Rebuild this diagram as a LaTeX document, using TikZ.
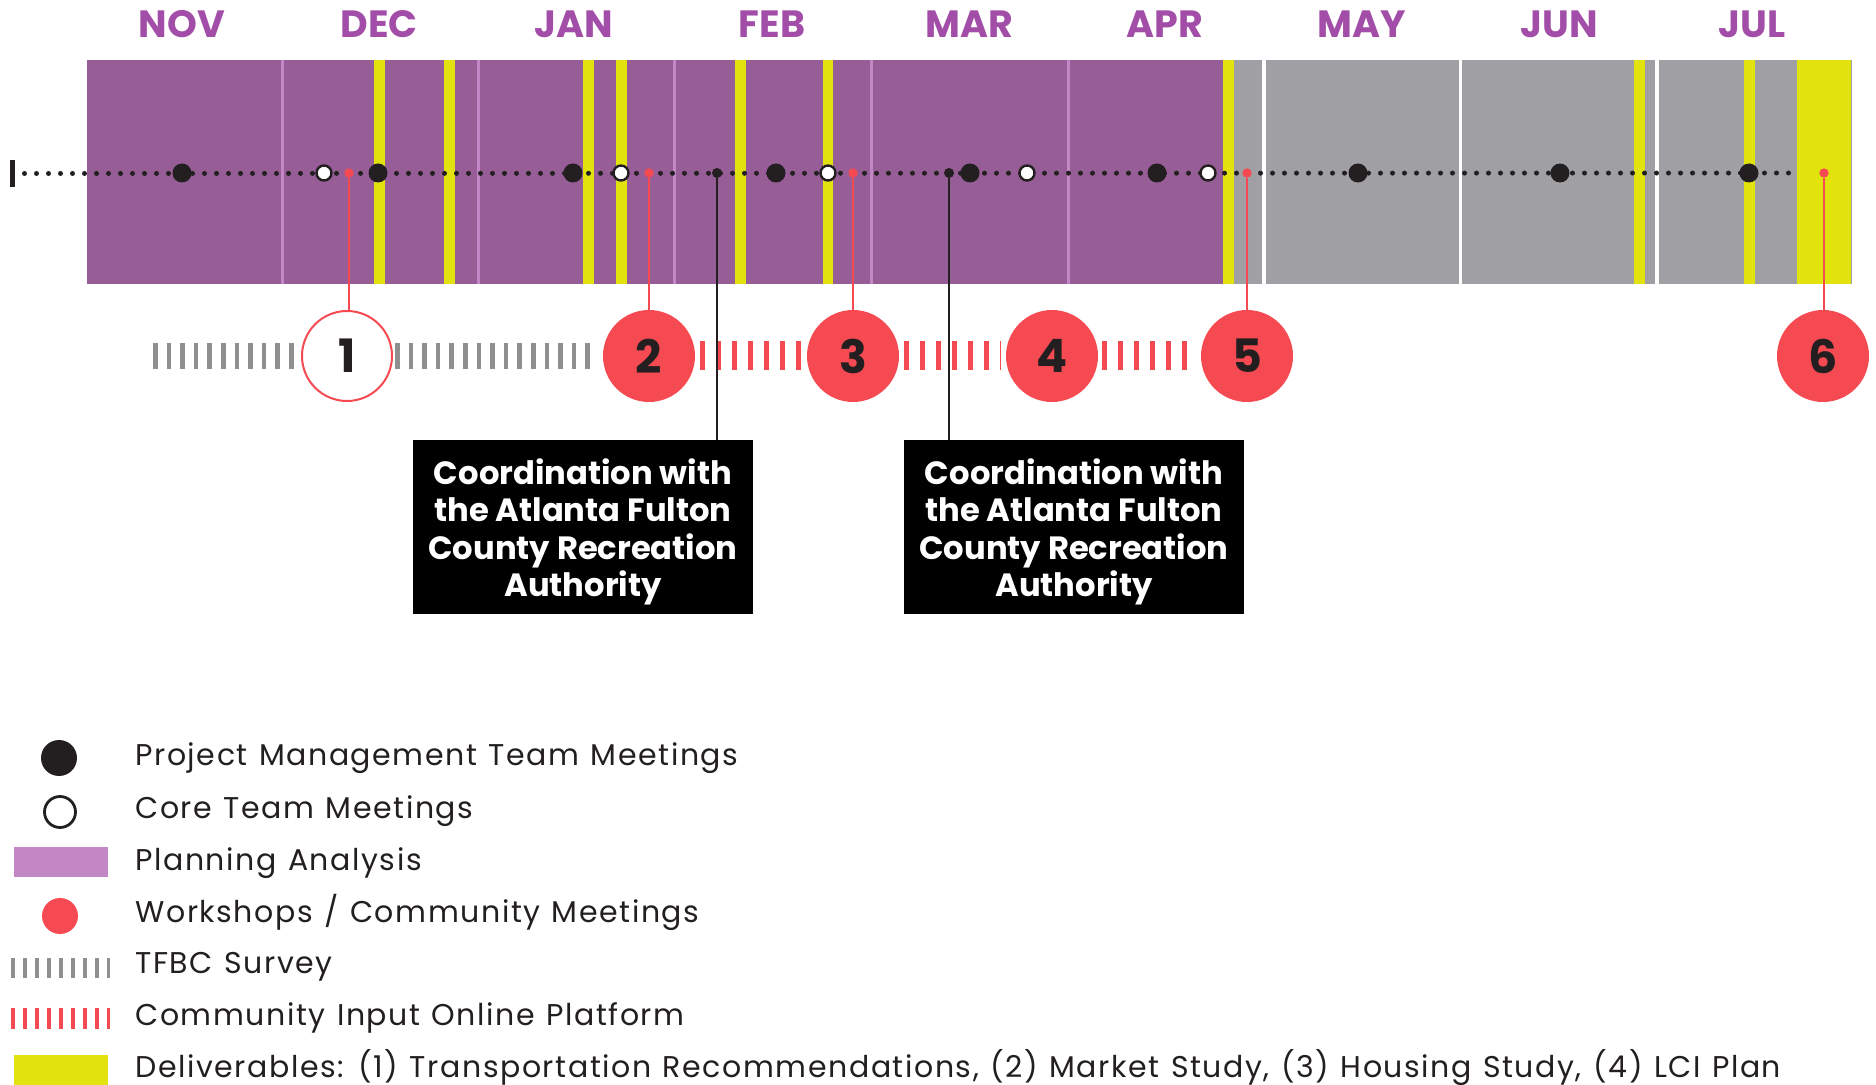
\documentclass[tikz,border=0pt]{standalone}
\usepackage{fontspec}
\setmainfont{Poppins}
\newfontfamily\legfont[LetterSpace=5.2,WordSpace=1.2]{Poppins}
\definecolor{purp}{HTML}{975D97}
\definecolor{lpurp}{HTML}{C287C4}
\definecolor{yel}{HTML}{E2E20F}
\definecolor{gry}{HTML}{A0A0A4}
\definecolor{mon}{HTML}{A24EA8}
\definecolor{wred}{HTML}{F64A52}
\definecolor{ink}{HTML}{231F20}
\definecolor{dgry}{HTML}{8F8F8F}
\begin{document}
\begin{tikzpicture}[x=0.5pt,y=-0.5pt,
  month/.style={anchor=base, text=mon, font=\fontsize{19}{19}\selectfont\bfseries, inner sep=0},
  dotline/.style={ink, line width=2.5pt, dash pattern=on 0pt off 6pt, line cap=round},
  pm/.style={circle, fill=ink, minimum size=9.5pt, inner sep=0},
  core/.style={circle, fill=white, draw=ink, line width=1.2pt, minimum size=7.5pt, inner sep=0},
  rdot/.style={circle, fill=wred, minimum size=4.7pt, inner sep=0},
  kdot/.style={circle, fill=ink, minimum size=5pt, inner sep=0},
  ws/.style={circle, fill=wred, minimum size=46pt, inner sep=0, text=ink, font=\fontsize{23}{23}\selectfont\bfseries},
  wsw/.style={ws, fill=white, draw=wred, line width=1pt, minimum size=45pt},
  rline/.style={wred, line width=1pt},
  kline/.style={ink, line width=1pt},
  tfbc/.style={dgry, line width=13pt, dash pattern=on 2.25pt off 4.55pt},
  cip/.style={wred, line width=14.5pt, dash pattern=on 2.5pt off 5.5pt},
  cbox/.style={rectangle, fill=black, minimum width=170pt, minimum height=87pt, inner sep=0},
  ctext/.style={text=white, inner sep=0, align=center, font=\fontsize{16.1}{18.7}\selectfont\bfseries},
  leg/.style={anchor=base west, text=ink, inner sep=0, font=\fontsize{15}{15}\legfont},
  legtfbc/.style={dgry, line width=10pt, dash pattern=on 2pt off 4pt},
  legcip/.style={wred, line width=10.5pt, dash pattern=on 2pt off 4pt}
]
\useasboundingbox (0,0) rectangle (1876,1085);

% bars
\fill[purp] (87,60) rectangle (1223,284);
\foreach \x in {282,478,674,871,1068} \fill[lpurp] (\x-1.5,60) rectangle (\x+1.5,284);
\foreach \a/\b in {1233/1262,1266/1459,1462/1655,1659/1852} \fill[gry] (\a,60) rectangle (\b,284);
\foreach \a/\b in {374/385,444/455,583/594,616/627,735/746,823/833,1223/1234,1634/1645,1744/1755,1797/1851} \fill[yel] (\a,60) rectangle (\b,284);

% months
\foreach \x/\m in {182/NOV,379/DEC,574/JAN,772/FEB,969/MAR,1165/APR,1362/MAY,1559/JUN,1752/JUL}
  \node[month] (m\m) at (\x,38) {\m};

% timeline
\node[fill=ink, minimum width=2.5pt, minimum height=13.5pt, inner sep=0] (tick) at (12.5,173.5) {};
\coordinate (tlend) at (1795,173);
\draw[dotline] (tick.center) -- (tlend);

% coordination dots
\node[kdot] (k1) at (717,173) {};
\node[kdot] (k2) at (949,173) {};

% PM meetings
\foreach \x [count=\i] in {182,378,573,776,970,1157,1358,1560,1749}
  \node[pm] (p\i) at (\x,173) {};
% core team
\foreach \x [count=\i] in {324,621,828,1027,1208}
  \node[core] (ct\i) at (\x,173) {};
% workshop dots
\foreach \x [count=\i] in {349,649,853,1247,1824}
  \node[rdot] (r\i) at (\x,173) {};

% workshop circles
\node[wsw] (c1) at (347,356) {1};
\node[ws] (c2) at (649,356) {2};
\node[ws] (c3) at (853,356) {3};
\node[ws] (c4) at (1052,356) {4};
\node[ws] (c5) at (1247,356) {5};
\node[ws] (c6) at (1823,356) {6};

\draw[rline] (r1) -- (r1 |- c1.north);
\draw[rline] (r2) -- (c2.north);
\draw[rline] (r3) -- (c3.north);
\draw[rline] (r4) -- (c5.north);
\draw[rline] (r5) -- (r5 |- c6.north);

% survey / platform
\coordinate (s0) at (153,356);
\draw[tfbc, shorten >=3.5pt] (s0) -- (c1.west);
\draw[tfbc, shorten <=1pt, shorten >=2pt] (c1.east) -- (c2.west);
\draw[cip, shorten <=2.5pt, shorten >=3pt] (c2.east) -- (c3.west);
\draw[cip, shorten <=2.5pt, shorten >=2.5pt] (c3.east) -- (c4.west);
\draw[cip, shorten <=2pt, shorten >=3.5pt] (c4.east) -- (c5.west);

% coordination boxes
\node[cbox] (b1) at (583,527) {};
\node[cbox] (b2) at (1074,527) {};
\node[ctext] (b1t) at ([yshift=-2.5pt]b1.center) {Coordination with\\the Atlanta Fulton\\County Recreation\\Authority};
\node[ctext] (b2t) at ([yshift=-2.5pt]b2.center) {Coordination with\\the Atlanta Fulton\\County Recreation\\Authority};
\draw[kline] (k1) -- (k1 |- b1.north);
\draw[kline] (k2) -- (k2 |- b2.north);

% legend
\node[pm, minimum size=18pt] (lg1) at (59,758) {};
\node[core, minimum size=15.5pt, line width=1.4pt] (lg2) at (60,812) {};
\node[fill=lpurp, minimum width=47pt, minimum height=15pt, inner sep=0] (lg3) at (61,862) {};
\node[rdot, minimum size=18pt] (lg4) at (60,916) {};
\coordinate (lg5a) at (11,968); \coordinate (lg5b) at (110,968);
\draw[legtfbc] (lg5a) -- (lg5b);
\coordinate (lg6a) at (11,1018.5); \coordinate (lg6b) at (110,1018.5);
\draw[legcip] (lg6a) -- (lg6b);
\node[fill=yel, minimum width=47pt, minimum height=15pt, inner sep=0] (lg7) at (61,1070) {};

\node[leg] (t1) at (135,765) {Project Management Team Meetings};
\node[leg] (t2) at (135,818) {Core Team Meetings};
\node[leg] (t3) at (135,870) {Planning Analysis};
\node[leg] (t4) at (135,922) {Workshops / Community Meetings};
\node[leg] (t5) at (135,973) {TFBC Survey};
\node[leg] (t6) at (135,1025) {Community Input Online Platform};
\node[leg] (t7) at (135,1077) {Deliverables: (1) Transportation Recommendations, (2) Market Study, (3) Housing Study, (4) LCI Plan};
\end{tikzpicture}
\end{document}
